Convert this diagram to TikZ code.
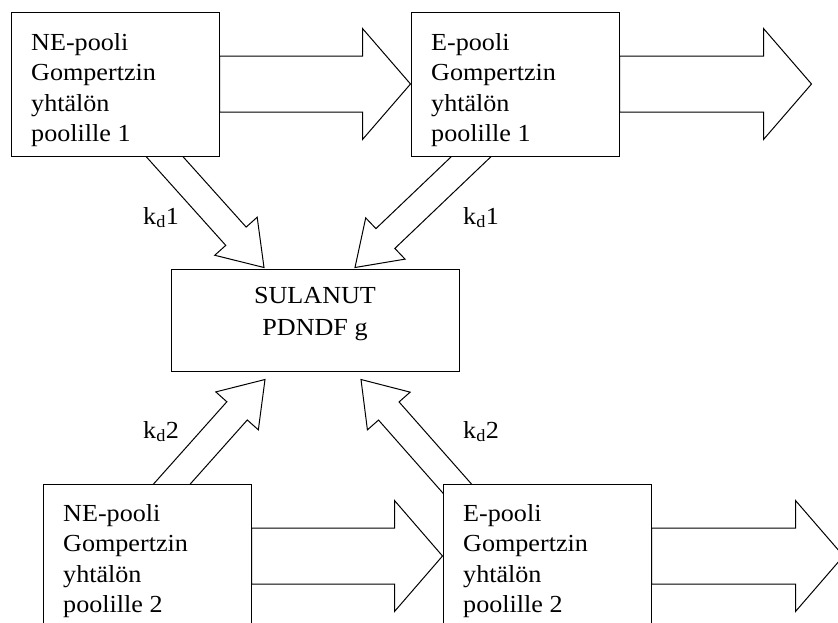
\documentclass[tikz,border=0pt]{standalone}
\usepackage{fontspec}
\setmainfont[FakeStretch=1.066]{Liberation Serif}
\usetikzlibrary{calc,backgrounds}
\newcommand{\blockarr}[5]{% #1 start, #2 tip, #3 half shaft, #4 half head, #5 head length
  \coordinate (bhx) at ($(#2)!#5!(#1)$);
  \draw[blk] ($(#1)!#3!90:(#2)$) -- ($(bhx)!#3!90:(#2)$) -- ($(bhx)!#4!90:(#2)$) -- (#2)
    -- ($(bhx)!#4!-90:(#2)$) -- ($(bhx)!#3!-90:(#2)$) -- ($(#1)!#3!-90:(#2)$) -- cycle;
}
\begin{document}
\begin{tikzpicture}[x=1pt,y=-1pt,line join=miter]
\tikzset{
  box/.style={draw, line width=1pt, fill=white, minimum width=208pt, minimum height=144pt, inner sep=0pt},
  cbox/.style={draw, line width=1pt, fill=white, minimum width=288pt, minimum height=102pt, inner sep=0pt},
  txt/.style={font=\fontsize{24.5}{30.5}\selectfont, inner sep=0pt, align=left, anchor=base west},
  ctxt/.style={font=\fontsize{24.5}{32}\selectfont, inner sep=0pt, align=center, anchor=base},
  lbl/.style={font=\fontsize{24.5}{31}\selectfont, inner sep=0pt, anchor=base west},
  blk/.style={draw, line width=1pt, fill=white},
}
\useasboundingbox (0,0) rectangle (838,622);
\clip (0,0) rectangle (838,622);

% boxes
\node[box] (tl) at (115,84) {};
\node[box] (tr) at (515,84) {};
\node[cbox] (c) at (315,320) {};
\node[box] (bl) at (147,556) {};
\node[box] (br) at (547,556) {};

% texts (anchor = baseline of the last line)
\node[txt] (tlt) at (31,141.5) {NE-pooli\\Gompertzin\\yhtälön\\poolille 1};
\node[txt] (trt) at (431,141.5) {E-pooli\\Gompertzin\\yhtälön\\poolille 1};
\node[ctxt] (ct) at (315,335) {SULANUT\\PDNDF g};
\node[txt] (blt) at (63,612.5) {NE-pooli\\Gompertzin\\yhtälön\\poolille 2};
\node[txt] (brt) at (463,612.5) {E-pooli\\Gompertzin\\yhtälön\\poolille 2};

% connector end points
\coordinate (outT) at ($(tr.east)+(192,0)$);
\coordinate (outB) at ($(br.east)+(192,0)$);
\coordinate (d1s) at ($(tl.south)+(36,-15)$);
\coordinate (d1e) at ($(c.north)+(-51,-1)$);
\coordinate (d2s) at ($(tr.south)+(-29,-14)$);
\coordinate (d2e) at ($(c.north)+(40,-1)$);
\coordinate (d3s) at ($(bl.north)+(12,15)$);
\coordinate (d3e) at ($(c.south)+(-50,8)$);
\coordinate (d4s) at ($(br.north)+(-81,15)$);
\coordinate (d4e) at ($(c.south)+(46,8)$);

\begin{scope}[on background layer]
  \blockarr{tl.east}{tr.west}{28pt}{55.5pt}{48pt}
  \blockarr{tr.east}{outT}{28pt}{55.5pt}{48pt}
  \blockarr{bl.east}{br.west}{28pt}{55.5pt}{48pt}
  \blockarr{br.east}{outB}{28pt}{55.5pt}{48pt}
  \blockarr{d1s}{d1e}{13.7pt}{28.5pt}{42pt}
  \blockarr{d2s}{d2e}{13.7pt}{28.5pt}{42pt}
  \blockarr{d3s}{d3e}{13.7pt}{28.5pt}{42pt}
  \blockarr{d4s}{d4e}{13.7pt}{28.5pt}{42pt}
\end{scope}

% labels
\node[lbl] (k1) at (143,224) {k\textsubscript{d}1};
\node[lbl] (k2) at (463,224) {k\textsubscript{d}1};
\node[lbl] (k3) at (143,438) {k\textsubscript{d}2};
\node[lbl] (k4) at (463,438) {k\textsubscript{d}2};
\end{tikzpicture}
\end{document}
